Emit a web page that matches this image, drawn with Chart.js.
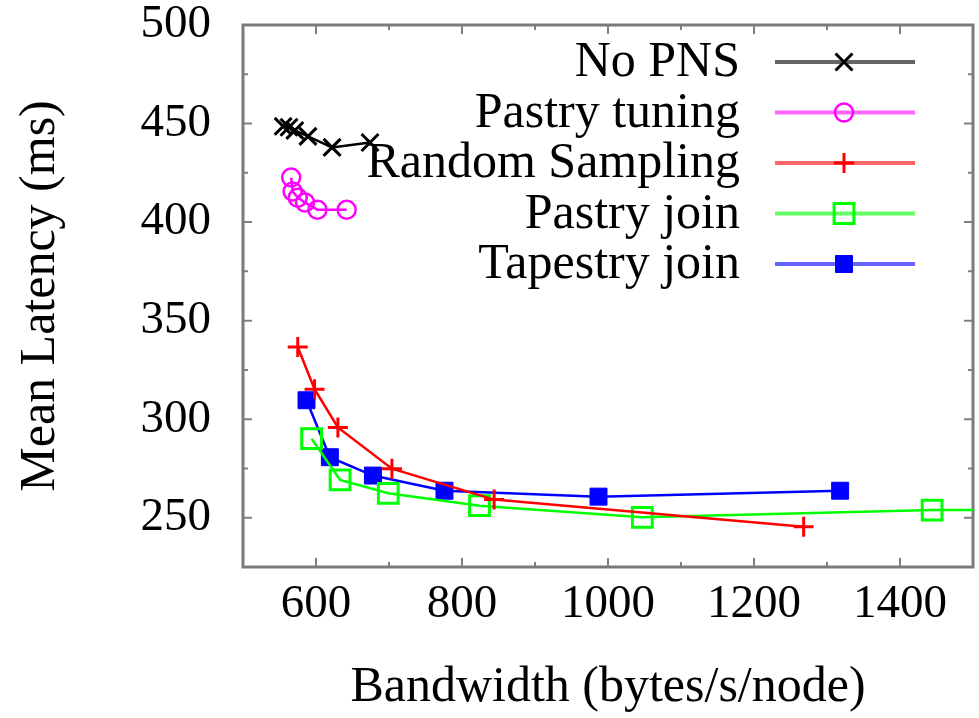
<!DOCTYPE html>
<html><head><meta charset="utf-8">
<script src="https://cdn.jsdelivr.net/npm/chart.js@4"></script>
<style>html,body{margin:0;padding:0;background:#fff;overflow:hidden;} canvas{display:block;}</style>
</head><body><canvas id="c" width="979" height="718"></canvas>
<script>
const seriesNames = ['No PNS', 'Pastry tuning', 'Random Sampling', 'Pastry join', 'Tapestry join'];
const noPnsBandwidth = [555, 563, 571, 589, 622, 674];
const noPnsLatency = [448.6, 448.1, 446.5, 443.5, 437.9, 440.4];
const pastryTuningBandwidth = [566, 568, 575, 585, 602, 642];
const pastryTuningLatency = [422.6, 415.5, 412.4, 409.9, 406.3, 406.3];
const randomSamplingBandwidth = [575, 598, 630, 704, 844, 1268];
const randomSamplingLatency = [336.6, 315.2, 295.8, 274.9, 259.2, 245.4];
const pastryJoinBandwidth = [594, 633, 699, 824, 1047, 1444, 1700];
const pastryJoinLatency = [290.1, 269.2, 262.4, 256.1, 250.2, 253.9, 253.9];
const tapestryJoinBandwidth = [587, 619, 678, 776, 987, 1318];
const tapestryJoinLatency = [309.6, 280.7, 271.4, 263.7, 260.7, 263.7];
const xTickLabels = [600, 800, 1000, 1200, 1400];
const yTickLabels = [250, 300, 350, 400, 450, 500];
const xTitle = 'Bandwidth (bytes/s/node)';
const yTitle = 'Mean Latency (ms)';

function pts(xs, ys) { return xs.map((v, i) => ({x: v, y: ys[i]})); }

const SERIF = '"Liberation Serif", "Times New Roman", serif';
Chart.defaults.font.family = SERIF;
Chart.defaults.color = '#000';

const styles = [
  {color: '#000000', legend: 'rgba(0,0,0,0.6)', pointStyle: 'crossRot', radius: 12, pbw: 3, fill: 'rgba(0,0,0,0)'},
  {color: '#ff00ff', legend: 'rgba(255,0,255,0.6)', pointStyle: 'circle', radius: 9, pbw: 2.5, fill: 'rgba(0,0,0,0)'},
  {color: '#ff0000', legend: 'rgba(255,0,0,0.6)', pointStyle: 'cross', radius: 10, pbw: 3, fill: 'rgba(0,0,0,0)'},
  {color: '#00ff00', legend: 'rgba(0,255,0,0.6)', pointStyle: 'rect', radius: 14, pbw: 3, fill: 'rgba(0,0,0,0)'},
  {color: '#0000ff', legend: 'rgba(0,0,255,0.6)', pointStyle: 'rect', radius: 12, pbw: 1, fill: '#0000ff'}
];
const seriesData = [
  pts(noPnsBandwidth, noPnsLatency),
  pts(pastryTuningBandwidth, pastryTuningLatency),
  pts(randomSamplingBandwidth, randomSamplingLatency),
  pts(pastryJoinBandwidth, pastryJoinLatency),
  pts(tapestryJoinBandwidth, tapestryJoinLatency)
];

const datasets = seriesNames.map((name, i) => ({
  label: name,
  data: seriesData[i],
  borderColor: styles[i].color,
  backgroundColor: styles[i].fill,
  borderWidth: 2.5,
  pointStyle: styles[i].pointStyle,
  pointRadius: styles[i].radius,
  pointBorderWidth: styles[i].pbw,
  pointBorderColor: styles[i].color,
  pointBackgroundColor: styles[i].fill,
  tension: 0,
  fill: false,
  legendLineColor: styles[i].legend
}));

function drawMarker(ctx, style, radius, x, y) {
  ctx.beginPath();
  if (style === 'circle') {
    ctx.arc(x, y, radius, 0, Math.PI * 2);
    ctx.closePath(); ctx.fill(); ctx.stroke();
  } else if (style === 'rect') {
    const s = Math.SQRT1_2 * radius;
    ctx.rect(x - s, y - s, 2 * s, 2 * s);
    ctx.fill(); ctx.stroke();
  } else if (style === 'cross') {
    ctx.moveTo(x, y - radius); ctx.lineTo(x, y + radius);
    ctx.moveTo(x - radius, y); ctx.lineTo(x + radius, y);
    ctx.stroke();
  } else if (style === 'crossRot') {
    const o = Math.SQRT1_2 * radius;
    ctx.moveTo(x - o, y - o); ctx.lineTo(x + o, y + o);
    ctx.moveTo(x - o, y + o); ctx.lineTo(x + o, y - o);
    ctx.stroke();
  }
}

const framePlugin = {
  id: 'gpFrame',
  beforeDatasetsDraw(chart) {
    const {ctx, chartArea: a, scales: {x, y}} = chart;
    ctx.save();
    ctx.strokeStyle = '#808080';
    ctx.lineWidth = 2;
    x.ticks.forEach(t => {
      if (t.value <= x.min || t.value >= x.max) return;
      const px = x.getPixelForValue(t.value);
      const len = xTickLabels.includes(t.value) ? 9 : 5;
      ctx.beginPath();
      ctx.moveTo(px, a.bottom); ctx.lineTo(px, a.bottom - len);
      ctx.moveTo(px, a.top); ctx.lineTo(px, a.top + len);
      ctx.stroke();
    });
    y.ticks.forEach(t => {
      if (t.value <= y.min || t.value >= y.max) return;
      const py = y.getPixelForValue(t.value);
      const len = yTickLabels.includes(t.value) ? 9 : 5;
      ctx.beginPath();
      ctx.moveTo(a.left, py); ctx.lineTo(a.left + len, py);
      ctx.moveTo(a.right, py); ctx.lineTo(a.right - len, py);
      ctx.stroke();
    });
    ctx.lineWidth = 3;
    ctx.strokeStyle = '#7a7a7a';
    ctx.strokeRect(a.left, a.top, a.right - a.left, a.bottom - a.top);
    ctx.restore();
  }
};

const legendPlugin = {
  id: 'gpLegend',
  afterDatasetsDraw(chart) {
    const ctx = chart.ctx;
    const rowTop = 62, rowStep = 50.5, textRight = 740, lineL = 775, lineR = 915, mark = 844;
    chart.data.datasets.forEach((ds, i) => {
      const yy = rowTop + i * rowStep;
      ctx.save();
      ctx.font = '50px ' + SERIF;
      ctx.fillStyle = '#000';
      ctx.textAlign = 'right';
      ctx.textBaseline = 'middle';
      ctx.fillText(ds.label, textRight, yy + 1);
      ctx.strokeStyle = ds.legendLineColor;
      ctx.lineWidth = 4;
      ctx.beginPath(); ctx.moveTo(lineL, yy); ctx.lineTo(lineR, yy); ctx.stroke();
      ctx.strokeStyle = ds.pointBorderColor;
      ctx.fillStyle = ds.pointBackgroundColor;
      ctx.lineWidth = ds.pointBorderWidth;
      drawMarker(ctx, ds.pointStyle, ds.pointRadius, mark, yy);
      ctx.restore();
    });
  }
};

function zeroPad(scale) {
  scale.paddingTop = 0; scale.paddingBottom = 0;
  scale.paddingLeft = 0; scale.paddingRight = 0;
}

new Chart(document.getElementById('c'), {
  type: 'line',
  data: {datasets},
  options: {
    responsive: false,
    maintainAspectRatio: false,
    devicePixelRatio: 1,
    animation: false,
    events: [],
    layout: {autoPadding: false, padding: {top: 25, right: 6, left: 0, bottom: 0}},
    plugins: {legend: {display: false}, tooltip: {enabled: false}},
    scales: {
      x: {
        type: 'linear',
        min: 500, max: 1500,
        grid: {display: false, drawTicks: false},
        border: {display: false},
        ticks: {
          stepSize: 100, autoSkip: false, maxRotation: 0,
          padding: 0,
          font: {size: 47, family: SERIF, lineHeight: 1.617},
          color: '#000',
          callback: v => xTickLabels.includes(v) ? String(v) : ''
        },
        title: {display: true, text: xTitle, font: {size: 50, family: SERIF, lineHeight: 1}, color: '#000', padding: {top: 0, bottom: 5}},
        afterFit(scale) { scale.height = 151; zeroPad(scale); }
      },
      y: {
        type: 'linear',
        min: 225, max: 500,
        grid: {display: false, drawTicks: false},
        border: {display: false},
        ticks: {
          stepSize: 25, autoSkip: false,
          padding: 32,
          font: {size: 47, family: SERIF},
          color: '#000',
          callback: v => yTickLabels.includes(v) ? String(v) : ''
        },
        title: {display: true, text: yTitle, font: {size: 50, family: SERIF, lineHeight: 1}, color: '#000', padding: {top: 16, bottom: 0}},
        afterFit(scale) { scale.width = 243; zeroPad(scale); }
      }
    }
  },
  plugins: [framePlugin, legendPlugin]
});
</script>
</body></html>
